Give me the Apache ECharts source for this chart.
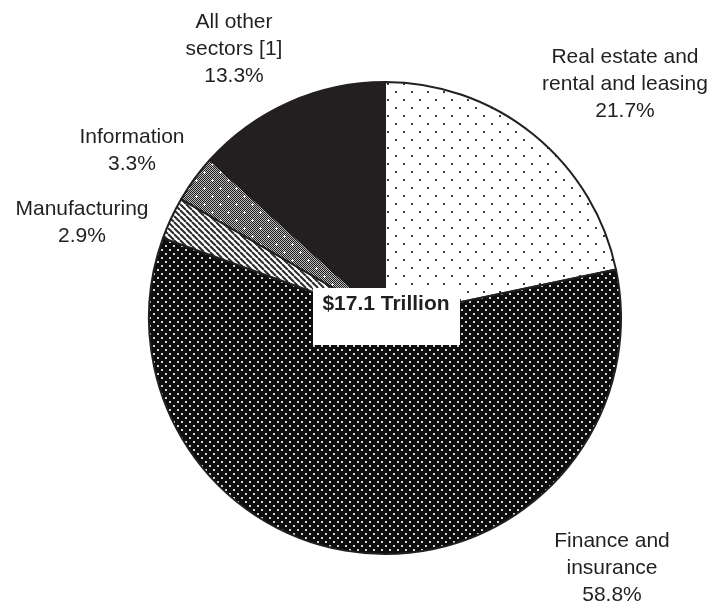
<!DOCTYPE html>
<html>
<head>
<meta charset="utf-8">
<script src="https://cdn.jsdelivr.net/npm/echarts@6/dist/echarts.min.js"></script>
<style>
  html, body { margin: 0; padding: 0; background: #fff; }
  #chart { width: 710px; height: 604px; }
</style>
</head>
<body>
<div id="chart"></div>
<script>
// slices, clockwise from 12 o'clock
const sectors = ['Real estate and\nrental and leasing', 'Finance and\ninsurance', 'Manufacturing', 'Information', 'All other\nsectors [1]'];
const shares = [21.7, 58.8, 2.9, 3.3, 13.3];
const totalText = '$17.1 Trillion';
// where each label block sits (centre of text block)
const labelSpots = [[625, 84], [612, 568], [82, 223], [132, 151], [234, 49]];

const ink = '#231f20';

function tile(w, h, draw) {
  const c = document.createElement('canvas');
  c.width = w;
  c.height = h;
  draw(c.getContext('2d'));
  return { image: c, repeat: 'repeat' };
}

const fills = [
  // sparse dark dots on white
  tile(16, 16, g => {
    g.fillStyle = '#fff'; g.fillRect(0, 0, 16, 16);
    g.fillStyle = '#3a3a3a'; g.fillRect(3, 3, 2, 2); g.fillRect(11, 11, 2, 2);
  }),
  // dense light dots on black
  tile(8, 8, g => {
    g.fillStyle = '#0d0d0d'; g.fillRect(0, 0, 8, 8);
    g.fillStyle = '#d6d6d6'; g.fillRect(1, 1, 2, 2); g.fillRect(5, 5, 2, 2);
  }),
  // diagonal hatch
  tile(6, 6, g => {
    g.fillStyle = '#fff'; g.fillRect(0, 0, 6, 6);
    g.strokeStyle = '#2a2a2a'; g.lineWidth = 2;
    [-6, 0, 6].forEach(o => { g.beginPath(); g.moveTo(o, 0); g.lineTo(o + 6, 6); g.stroke(); });
  }),
  // grey checker with white crosses
  tile(16, 16, g => {
    for (let y = 0; y < 16; y++) {
      for (let x = 0; x < 16; x++) {
        g.fillStyle = (x + y) % 2 ? '#bcbcbc' : '#1e1e1e';
        g.fillRect(x, y, 1, 1);
      }
    }
    g.fillStyle = '#fff';
    [[4, 4], [12, 12]].forEach(([x, y]) => { g.fillRect(x - 1, y, 3, 1); g.fillRect(x, y - 1, 1, 3); });
  }),
  ink
];

const chart = echarts.init(document.getElementById('chart'));
chart.setOption({
  animation: false,
  series: [{
    type: 'pie',
    center: [385, 318],
    radius: 236,
    startAngle: 90,
    clockwise: true,
    emphasis: { disabled: true },
    itemStyle: { borderColor: ink, borderWidth: 2 },
    label: {
      position: 'outside',
      formatter: p => p.name + '\n' + shares[p.dataIndex].toFixed(1) + '%',
      fontFamily: 'Liberation Sans, Arial, sans-serif',
      fontSize: 21,
      lineHeight: 27,
      color: ink,
      align: 'center',
      overflow: 'none',
      width: 260
    },
    labelLine: { show: false },
    labelLayout: p => ({
      x: labelSpots[p.dataIndex][0],
      y: labelSpots[p.dataIndex][1],
      align: 'center',
      verticalAlign: 'middle'
    }),
    data: sectors.map((name, i) => ({ name, value: shares[i], itemStyle: { color: fills[i] } }))
  }],
  graphic: {
    elements: [
      {
        type: 'rect', z: 100,
        shape: { x: 313, y: 288, width: 147, height: 57 },
        style: { fill: '#fff' }
      },
      {
        type: 'text', z: 101, x: 386, y: 304,
        style: {
          text: totalText, fill: ink, align: 'center', verticalAlign: 'middle',
          font: 'bold 21px "Liberation Sans", Arial, sans-serif'
        }
      }
    ]
  }
});
</script>
</body>
</html>
